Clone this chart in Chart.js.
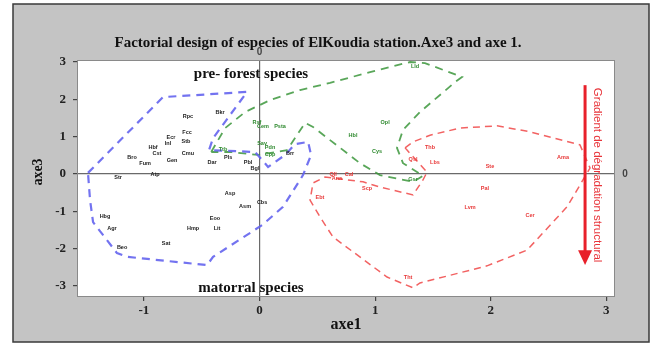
<!DOCTYPE html>
<html><head><meta charset="utf-8">
<script src="https://cdn.jsdelivr.net/npm/chart.js@4.4.1/dist/chart.umd.min.js"></script>
<style>html,body{margin:0;padding:0;background:#fff}#c{display:block}</style>
</head><body>
<canvas id="c" width="653" height="343"></canvas>
<script>
// ---- data (factorial coordinates: axe1 = x, axe3 = y) ----
const xTicks = [-1, 0, 1, 2, 3];
const yTicks = [-3, -2, -1, 0, 1, 2, 3];

const blueX = [-1.484,-0.835,-0.108,-0.402,-0.437,-0.039,0.074,0.221,0.307,0.420,0.446,0.376,0.203,0.022,-0.402,-0.454,-1.146,-1.233,-1.440,-1.466,-1.484];
const blueY = [0.03,2.06,2.20,0.96,0.64,0.59,0.19,0.51,0.80,0.86,0.51,-0.03,-0.88,-1.37,-2.22,-2.44,-2.22,-2.12,-1.29,-0.70,0.03];

const greenX = [-0.418,-0.298,-0.125,0.091,0.350,0.610,0.956,1.302,1.431,1.752,1.691,1.388,1.241,1.189,1.241,1.414,1.328,1.042,0.869,0.463,0.394,0.238,-0.013,-0.255,-0.418];
const greenY = [0.59,1.23,1.66,1.98,2.25,2.44,2.73,3.00,2.97,2.60,2.46,1.66,1.18,0.70,0.29,-0.05,-0.21,-0.03,0.29,1.26,1.37,0.64,0.51,0.59,0.59];

const redX = [1.259,1.328,1.475,1.734,2.054,2.340,2.772,2.859,2.660,2.314,1.968,1.388,1.328,1.103,0.636,0.523,0.437,0.463,0.567,0.895,1.042,1.328,1.414,1.449,1.276,1.259];
const redY = [0.70,0.86,1.04,1.23,1.29,1.13,0.78,0.16,-0.88,-2.04,-2.46,-2.92,-3.05,-2.76,-1.69,-1.15,-0.70,-0.24,-0.08,-0.21,-0.35,-0.56,-0.16,0.05,0.64,0.70];

const matorralNames = ["Rpc","Bkr","Ecr","Fcc","Stb","Inl","Hbf","Cst","Cmu","Bro","Fum","Gen","Atp","Str","Dar","Pls","Pbl","Bgl","Brr","Asp","Asm","Cbs","Hbg","Eoo","Agr","Hmp","Lit","Sat","Beo"];
const matorralX = [-0.619,-0.342,-0.766,-0.627,-0.636,-0.792,-0.921,-0.887,-0.619,-1.103,-0.990,-0.757,-0.904,-1.224,-0.411,-0.272,-0.099,-0.039,0.264,-0.255,-0.125,0.022,-1.337,-0.385,-1.276,-0.575,-0.368,-0.809,-1.189];
const matorralY = [1.55,1.66,0.99,1.10,0.88,0.83,0.70,0.56,0.56,0.43,0.29,0.35,0.00,-0.08,0.32,0.43,0.32,0.16,0.56,-0.51,-0.88,-0.75,-1.15,-1.18,-1.47,-1.47,-1.47,-1.85,-1.96];

const forestNames = ["Rsf","Cem","Psta","Sav","Pdn","Ttb","Cpp","Lld","Opl","Hbl","Cys","Gsr"];
const forestX = [-0.022,0.030,0.177,0.022,0.091,-0.316,0.091,1.345,1.086,0.809,1.016,1.328];
const forestY = [1.37,1.26,1.26,0.83,0.70,0.67,0.51,2.87,1.39,1.04,0.59,-0.16];

const degradedNames = ["Thb","Qsl","Lbs","Ste","Ama","Pal","Lvm","Cer","Qll","Ana","Cal","Scp","Ebt","Tht"];
const degradedX = [1.475,1.328,1.518,1.993,2.625,1.950,1.821,2.340,0.636,0.670,0.774,0.930,0.523,1.285];
const degradedY = [0.72,0.38,0.32,0.19,0.43,-0.38,-0.91,-1.10,0.00,-0.11,0.00,-0.38,-0.64,-2.76];

const arrowX = 2.816, arrowTop = 2.38, arrowHeadStart = -2.04, arrowTip = -2.44;

// ---- build ----
const pts = (xs, ys) => xs.map((x, i) => ({x, y: ys[i]}));
const BLUE = 'rgba(100,100,238,0.9)', GREEN = 'rgba(60,150,60,0.85)', RED = 'rgba(240,70,70,0.85)';

const poly = (xs, ys, c, w, dash) => ({type:'line', data: pts(xs, ys), showLine:true, borderColor:c, borderWidth:w,
  borderDash:dash, pointRadius:0, fill:false, tension:0, order:1});
const labelSet = (names, xs, ys, c) => ({type:'scatter', data: pts(xs, ys), names, labelColor:c, pointRadius:0, showLine:false, order:2});

const bg = {
  id:'bg',
  beforeDraw(chart){
    const ctx = chart.ctx, a = chart.chartArea;
    ctx.save();
    ctx.fillStyle = '#fff'; ctx.fillRect(0,0,chart.width,chart.height);
    ctx.fillStyle = '#c4c4c4'; ctx.fillRect(13,4,636,338);
    ctx.strokeStyle = '#3a3a3a'; ctx.lineWidth = 1.5; ctx.strokeRect(13,4,636,338);
    ctx.fillStyle = '#fff'; ctx.fillRect(a.left,a.top,a.right-a.left,a.bottom-a.top);
    ctx.restore();
  },
  afterDatasetsDraw(chart){
    const ctx = chart.ctx, a = chart.chartArea;
    const xs = chart.scales.x, ys = chart.scales.y;
    ctx.save();
    // point labels
    chart.data.datasets.forEach((ds, di) => {
      if (!ds.names) return;
      const meta = chart.getDatasetMeta(di);
      ctx.font = 'bold 5.5px "Liberation Sans"';
      ctx.fillStyle = ds.labelColor; ctx.textAlign = 'center'; ctx.textBaseline = 'middle';
      meta.data.forEach((el, i) => ctx.fillText(ds.names[i], el.x, el.y));
    });
    // plot border
    ctx.strokeStyle = '#8a8a8a'; ctx.lineWidth = 1;
    ctx.strokeRect(a.left+0.5, a.top+0.5, a.right-a.left-1, a.bottom-a.top-1);
    // title and annotations
    ctx.fillStyle = '#111'; ctx.textAlign = 'center'; ctx.textBaseline = 'middle';
    ctx.font = 'bold 15px "Liberation Serif"';
    ctx.fillText('Factorial design of especies of ElKoudia station.Axe3 and axe 1.', 318, 43);
    ctx.fillText('pre- forest species', 251, 74);
    ctx.fillText('matorral species', 251, 288);
    ctx.font = 'bold 16px "Liberation Serif"';
    ctx.fillText('axe1', 346, 325);
    ctx.font = 'bold 14px "Liberation Serif"';
    ctx.save(); ctx.translate(38, 172); ctx.rotate(-Math.PI/2); ctx.fillText('axe3', 0, 0); ctx.restore();
    // zero marks
    ctx.font = 'bold 10px "Liberation Sans"'; ctx.fillStyle = '#444';
    ctx.fillText('0', xs.getPixelForValue(0), 52);
    ctx.fillText('0', 625, ys.getPixelForValue(0));
    // red arrow
    const ax = xs.getPixelForValue(arrowX);
    ctx.strokeStyle = '#e8202a'; ctx.fillStyle = '#e8202a'; ctx.lineWidth = 3;
    ctx.beginPath(); ctx.moveTo(ax, ys.getPixelForValue(arrowTop)); ctx.lineTo(ax, ys.getPixelForValue(arrowHeadStart)+2); ctx.stroke();
    const hs = ys.getPixelForValue(arrowHeadStart), ht = ys.getPixelForValue(arrowTip);
    ctx.beginPath(); ctx.moveTo(ax-7, hs); ctx.lineTo(ax+7, hs); ctx.lineTo(ax, ht); ctx.closePath(); ctx.fill();
    ctx.save(); ctx.translate(ax+12, ys.getPixelForValue((arrowTop+arrowTip)/2)); ctx.rotate(Math.PI/2);
    ctx.font = '11.5px "Liberation Sans"'; ctx.fillStyle = '#e8343a';
    ctx.fillText('Gradient de dégradation structural', 0, 0); ctx.restore();
    ctx.restore();
  }
};

const tickFont = {family:'"Liberation Serif"', size:13, weight:'bold'};
new Chart(document.getElementById('c'), {
  type:'scatter',
  data:{datasets:[
    poly(blueX, blueY, BLUE, 2.2, [8,6]),
    poly(greenX, greenY, GREEN, 1.8, [8,6]),
    poly(redX, redY, RED, 1.5, [7,5]),
    labelSet(matorralNames, matorralX, matorralY, '#222'),
    labelSet(forestNames, forestX, forestY, '#2f8a2f'),
    labelSet(degradedNames, degradedX, degradedY, '#e83838')
  ]},
  options:{
    responsive:false, animation:false, devicePixelRatio:1,
    layout:{padding:{left:0, top:60, right:38, bottom:0}},
    plugins:{legend:{display:false}, tooltip:{enabled:false}},
    scales:{
      x:{type:'linear', min:-1.579, max:3.075,
        afterBuildTicks:s => { s.ticks = xTicks.map(v => ({value:v})); },
        afterFit:s => { s.height = 46; },
        ticks:{font:tickFont, color:'#222', padding:2},
        grid:{color:c => c.tick && c.tick.value === 0 ? '#6a6a6a' : 'transparent', lineWidth:1.2, tickColor:'#444', tickLength:4},
        border:{display:false}},
      y:{type:'linear', min:-3.295, max:3.054,
        afterBuildTicks:s => { s.ticks = yTicks.map(v => ({value:v})); },
        afterFit:s => { s.width = 77; },
        ticks:{font:tickFont, color:'#222', padding:7},
        grid:{color:c => c.tick && c.tick.value === 0 ? '#6a6a6a' : 'transparent', lineWidth:1.2, tickColor:'#444', tickLength:4},
        border:{display:false}}
    }
  },
  plugins:[bg]
});
</script>
</body></html>
